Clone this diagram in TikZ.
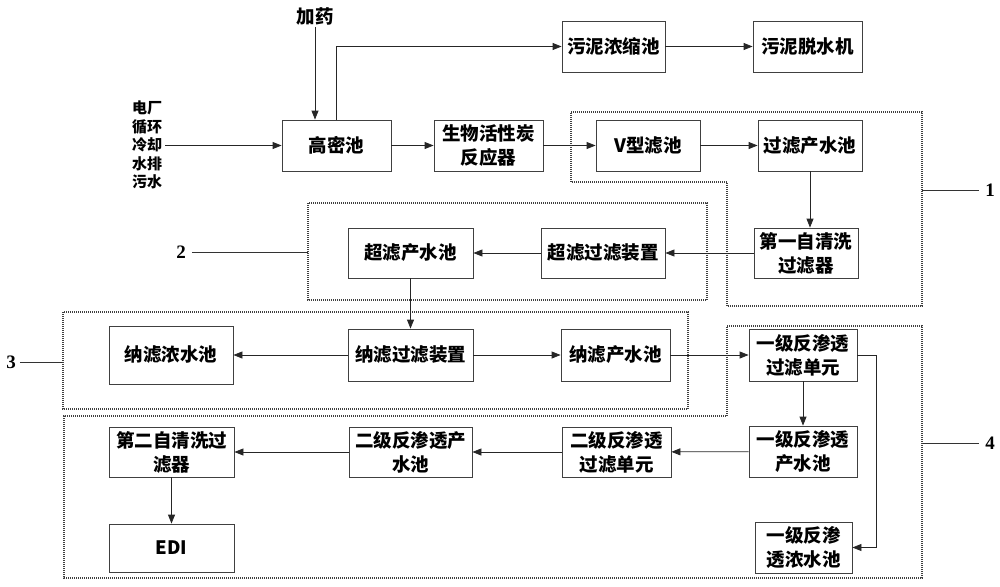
\documentclass[tikz,border=0pt]{standalone}
\usepackage{fontspec}
\setmainfont{Liberation Serif}
\newfontfamily\cjk{Noto Sans CJK SC}
\usetikzlibrary{arrows.meta,calc}
\begin{document}
\begin{tikzpicture}[x=1pt,y=-1pt,
  box/.style={draw=black!75,line width=0.8pt,fill=white,inner sep=0pt,align=center,
    font=\cjk\bfseries\fontsize{18.5}{24}\selectfont},
  flow/.style={draw=black!85,line width=0.8pt,-{Triangle[length=9pt,width=7pt]}},
  grp/.style={draw=black!75,line width=1.1pt,dash pattern=on 1pt off 1pt},
  lead/.style={draw=black!80,line width=0.8pt},
  lbl/.style={font=\bfseries\fontsize{19}{19}\selectfont,inner sep=0pt}]
\useasboundingbox (0,0) rectangle (1000,586);

% group frames
\draw[grp] (571,112) -- (922,112) -- (922,306) -- (727,306) -- (727,182) -- (571,182) -- cycle;
\draw[grp] (308,203) rectangle (707,300);
\draw[grp] (63,312) rectangle (688,409);
\draw[grp] (727,326) -- (922,326) -- (922,578) -- (64,578) -- (64,416) -- (727,416) -- cycle;

% boxes
\node[box,minimum width=109pt,minimum height=51pt] (gmc) at (336.5,145.5) {高密池};
\node[box,minimum width=109pt,minimum height=51pt] (sw) at (488.5,145.5) {生物活性炭\\反应器};
\node[box,minimum width=103pt,minimum height=51pt] (wn) at (613.5,46.5) {污泥浓缩池};
\node[box,minimum width=109pt,minimum height=51pt] (wt) at (807.5,46.5) {污泥脱水机};
\node[box,minimum width=104pt,minimum height=51pt] (vf) at (648,145.5) {V型滤池};
\node[box,minimum width=104pt,minimum height=51pt] (gl) at (810,145.5) {过滤产水池};
\node[box,minimum width=104pt,minimum height=50pt] (d1) at (806,253) {第一自清洗\\过滤器};
\node[box,minimum width=124pt,minimum height=50pt] (cf) at (603,253) {超滤过滤装置};
\node[box,minimum width=125pt,minimum height=50pt] (cp) at (410.5,253) {超滤产水池};
\node[box,minimum width=124pt,minimum height=58pt] (nn) at (171,355) {纳滤浓水池};
\node[box,minimum width=125pt,minimum height=52pt] (nf) at (410.5,355) {纳滤过滤装置};
\node[box,minimum width=109pt,minimum height=52pt] (np) at (615.5,355) {纳滤产水池};
\node[box,minimum width=108pt,minimum height=52pt] (r1) at (803,355) {一级反渗透\\过滤单元};
\node[box,minimum width=108pt,minimum height=51pt] (r1p) at (803,451.5) {一级反渗透\\产水池};
\node[box,minimum width=97pt,minimum height=51pt] (r1c) at (803.5,547.5) {一级反渗\\透浓水池};
\node[box,minimum width=109pt,minimum height=50pt] (r2) at (616.5,452) {二级反渗透\\过滤单元};
\node[box,minimum width=123pt,minimum height=50pt] (r2p) at (410.5,452) {二级反渗透产\\水池};
\node[box,minimum width=125pt,minimum height=50pt] (d2) at (171.5,452) {第二自清洗过\\滤器};
\node[box,minimum width=125pt,minimum height=48pt] (edi) at (171.5,548) {EDI};

% free texts
\node[inner sep=2pt,font=\cjk\bfseries\fontsize{18.5}{18}\selectfont] (jy) at (315,16) {加药};
\node[inner sep=3pt,align=center,font=\cjk\bfseries\fontsize{15}{18.5}\selectfont] (src) at (147,145) {电厂\\循环\\冷却\\水排\\污水};

% connectors
\draw[flow] (jy.south) -- (jy.south |- gmc.north);
\draw[flow] (src.east |- gmc.west) -- (gmc.west);
\draw[flow] (gmc.north) |- (wn.west);
\draw[flow] (wn) -- (wt);
\draw[flow] (gmc) -- (sw);
\draw[flow] (sw) -- (vf);
\draw[flow] (vf) -- (gl);
\draw[flow] (gl.south) -- (gl.south |- d1.north);
\draw[flow] (d1) -- (cf);
\draw[flow] (cf) -- (cp);
\draw[flow] (cp.south) -- (cp.south |- nf.north);
\draw[flow] (nf) -- (nn);
\draw[flow] (nf) -- (np);
\draw[flow] (np) -- (r1);
\draw[flow] (r1.south) -- (r1p.north);
\draw[flow] (r1.east) -- ++(19,0) |- (r1c.east);
\draw[flow] (r1p) -- (r2);
\draw[flow] (r2) -- (r2p);
\draw[flow] (r2p) -- (d2);
\draw[flow] (d2) -- (edi);

% group labels
\node[lbl] (l1) at (990,190) {1};
\node[lbl] (l2) at (181,252) {2};
\node[lbl] (l3) at (11,362) {3};
\node[lbl] (l4) at (990,443) {4};
\coordinate (g1) at (922,190);
\coordinate (g2) at (308,252);
\coordinate (g3) at (63,362);
\coordinate (g4) at (922,443);
\draw[lead] (g1) -- ($(l1.west)+(-6,0)$);
\draw[lead] ($(l2.east)+(6,0)$) -- (g2);
\draw[lead] ($(l3.east)+(4,0)$) -- (g3);
\draw[lead] (g4) -- ($(l4.west)+(-6,0)$);
\end{tikzpicture}
\end{document}
